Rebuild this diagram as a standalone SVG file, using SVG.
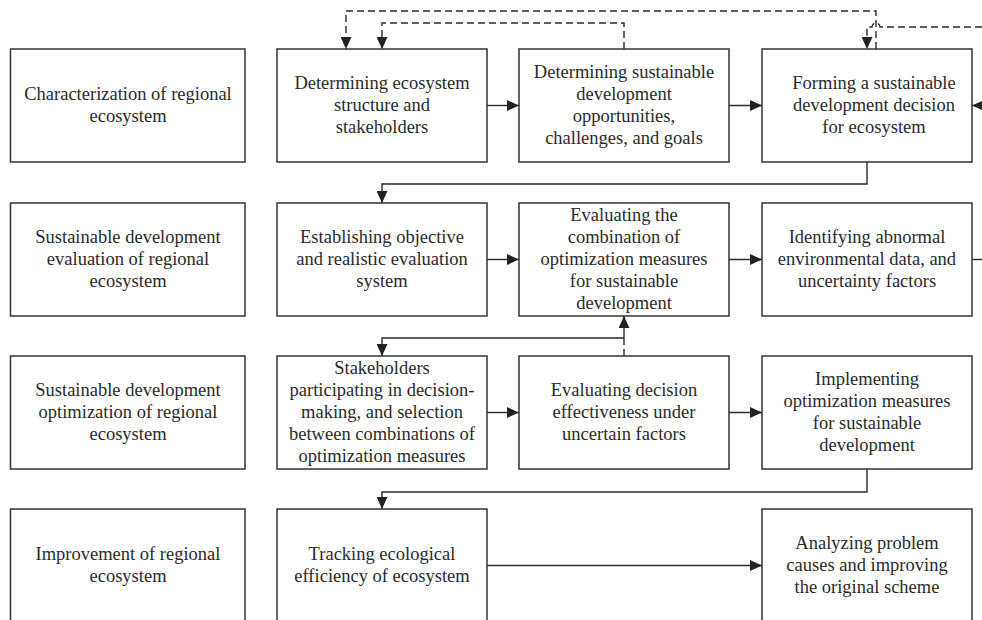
<svg xmlns="http://www.w3.org/2000/svg" width="982" height="620" viewBox="0 0 982 620">
<defs>
<marker id="ah" markerUnits="userSpaceOnUse" viewBox="0 0 12 11" refX="12" refY="5.5" markerWidth="12" markerHeight="11" orient="auto">
<path d="M0,0 L12,5.5 L0,11 z" fill="#222"/>
</marker>
<style>
.box{fill:#fff;stroke:#333;stroke-width:1.5}
.t{font-family:"Liberation Serif","Times New Roman",serif;font-size:18.5px;fill:#2a2a2a;text-anchor:middle}
.c{fill:none;stroke:#2a2a2a;stroke-width:1.4}
.d{fill:none;stroke:#2a2a2a;stroke-width:1.4;stroke-dasharray:7 4}
</style>
</defs>
<rect width="982" height="620" fill="#fff"/>

<g id="connectors">
<path class="c" d="M487,105.5 H519" marker-end="url(#ah)"/>
<path class="c" d="M729,105.5 H762" marker-end="url(#ah)"/>
<path class="c" d="M982,105.5 H972" marker-end="url(#ah)"/>
<path class="c" d="M867,162 V184 H382 V203" marker-end="url(#ah)"/>
<path class="c" d="M487,259.5 H519" marker-end="url(#ah)"/>
<path class="c" d="M729,259.5 H762" marker-end="url(#ah)"/>
<path class="c" d="M972,259.5 H982"/>
<path class="c" d="M624,338 V316" marker-end="url(#ah)"/>
<path class="c" d="M624,338 H382 V356" marker-end="url(#ah)"/>
<path class="d" d="M624,356 V338"/>
<path class="c" d="M487,412.5 H519" marker-end="url(#ah)"/>
<path class="c" d="M729,412.5 H762" marker-end="url(#ah)"/>
<path class="c" d="M867,469 V492 H382 V509" marker-end="url(#ah)"/>
<path class="c" d="M487,565.5 H762" marker-end="url(#ah)"/>
<path class="d" d="M876,49 V11 H346 V49" marker-end="url(#ah)"/>
<path class="d" d="M624,49 V23 H382 V49" marker-end="url(#ah)"/>
<path class="d" d="M982,27 H880 A4,4 0 0 0 872,27 H867 V49" marker-end="url(#ah)"/>
</g>

<g id="n1"><rect class="box" x="10.5" y="49" width="234.5" height="113"/>
<text class="t"><tspan x="128" y="99.5">Characterization of regional</tspan><tspan x="128" y="121.5">ecosystem</tspan></text></g>
<g id="n2"><rect class="box" x="277" y="49" width="210" height="113"/>
<text class="t"><tspan x="382" y="88.5">Determining ecosystem</tspan><tspan x="382" y="110.5">structure and</tspan><tspan x="382" y="132.5">stakeholders</tspan></text></g>
<g id="n3"><rect class="box" x="519" y="49" width="210" height="113"/>
<text class="t"><tspan x="624" y="77.5">Determining sustainable</tspan><tspan x="624" y="99.5">development</tspan><tspan x="624" y="121.5">opportunities,</tspan><tspan x="624" y="143.5">challenges, and goals</tspan></text></g>
<g id="n4"><rect class="box" x="762" y="49" width="210" height="113"/>
<text class="t"><tspan x="874" y="88.5">Forming a sustainable</tspan><tspan x="874" y="110.5">development decision</tspan><tspan x="874" y="132.5">for ecosystem</tspan></text></g>

<g id="n5"><rect class="box" x="10.5" y="203" width="234.5" height="113"/>
<text class="t"><tspan x="128" y="242.5">Sustainable development</tspan><tspan x="128" y="264.5">evaluation of regional</tspan><tspan x="128" y="286.5">ecosystem</tspan></text></g>
<g id="n6"><rect class="box" x="277" y="203" width="210" height="113"/>
<text class="t"><tspan x="382" y="242.5">Establishing objective</tspan><tspan x="382" y="264.5">and realistic evaluation</tspan><tspan x="382" y="286.5">system</tspan></text></g>
<g id="n7"><rect class="box" x="519" y="203" width="210" height="113"/>
<text class="t"><tspan x="624" y="220.5">Evaluating the</tspan><tspan x="624" y="242.5">combination of</tspan><tspan x="624" y="264.5">optimization measures</tspan><tspan x="624" y="286.5">for sustainable</tspan><tspan x="624" y="308.5">development</tspan></text></g>
<g id="n8"><rect class="box" x="762" y="203" width="210" height="113"/>
<text class="t"><tspan x="867" y="242.5">Identifying abnormal</tspan><tspan x="867" y="264.5">environmental data, and</tspan><tspan x="867" y="286.5">uncertainty factors</tspan></text></g>

<g id="n9"><rect class="box" x="10.5" y="356" width="234.5" height="113"/>
<text class="t"><tspan x="128" y="395.5">Sustainable development</tspan><tspan x="128" y="417.5">optimization of regional</tspan><tspan x="128" y="439.5">ecosystem</tspan></text></g>
<g id="n10"><rect class="box" x="277" y="356" width="210" height="113"/>
<text class="t"><tspan x="382" y="373.5">Stakeholders</tspan><tspan x="382" y="395.5">participating in decision-</tspan><tspan x="382" y="417.5">making, and selection</tspan><tspan x="382" y="439.5">between combinations of</tspan><tspan x="382" y="461.5">optimization measures</tspan></text></g>
<g id="n11"><rect class="box" x="519" y="356" width="210" height="113"/>
<text class="t"><tspan x="624" y="395.5">Evaluating decision</tspan><tspan x="624" y="417.5">effectiveness under</tspan><tspan x="624" y="439.5">uncertain factors</tspan></text></g>
<g id="n12"><rect class="box" x="762" y="356" width="210" height="113"/>
<text class="t"><tspan x="867" y="384.5">Implementing</tspan><tspan x="867" y="406.5">optimization measures</tspan><tspan x="867" y="428.5">for sustainable</tspan><tspan x="867" y="450.5">development</tspan></text></g>

<g id="n13"><rect class="box" x="10.5" y="509" width="234.5" height="113"/>
<text class="t"><tspan x="128" y="559.5">Improvement of regional</tspan><tspan x="128" y="581.5">ecosystem</tspan></text></g>
<g id="n14"><rect class="box" x="277" y="509" width="210" height="113"/>
<text class="t"><tspan x="382" y="559.5">Tracking ecological</tspan><tspan x="382" y="581.5">efficiency of ecosystem</tspan></text></g>
<g id="n15"><rect class="box" x="762" y="509" width="210" height="113"/>
<text class="t"><tspan x="867" y="548.5">Analyzing problem</tspan><tspan x="867" y="570.5">causes and improving</tspan><tspan x="867" y="592.5">the original scheme</tspan></text></g>
</svg>
